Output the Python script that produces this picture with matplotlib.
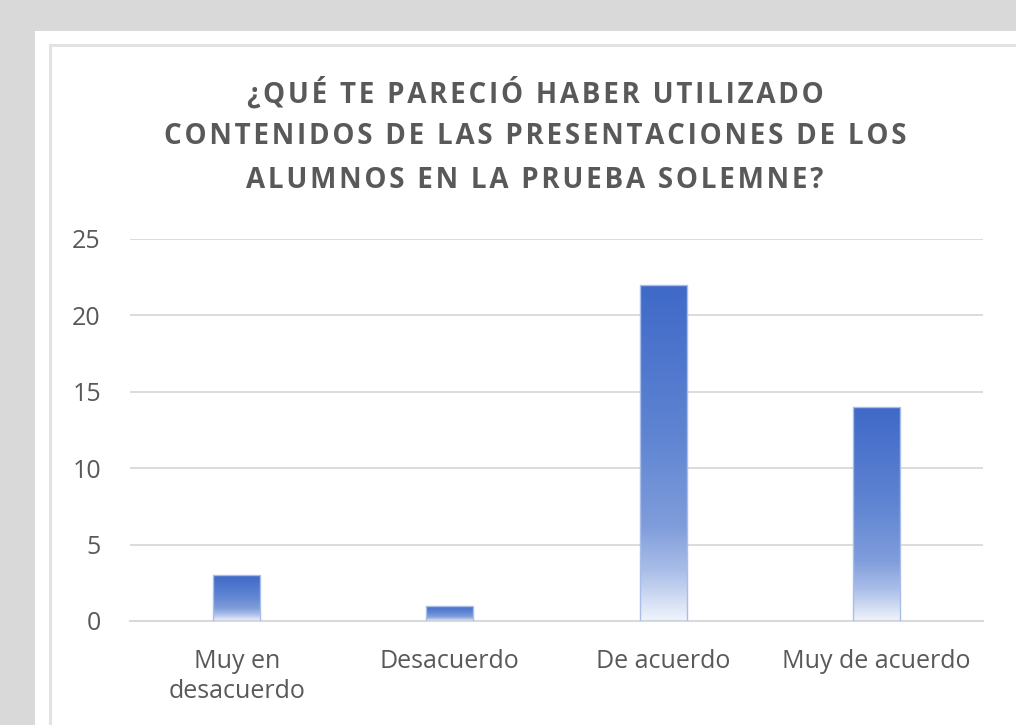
import matplotlib
matplotlib.use("Agg")
import matplotlib.pyplot as plt
import numpy as np
from matplotlib.colors import LinearSegmentedColormap
from matplotlib.patches import Rectangle
from matplotlib.lines import Line2D

categories = ["Muy en\ndesacuerdo", "Desacuerdo", "De acuerdo", "Muy de acuerdo"]
values = [3, 1, 22, 14]
title_lines = ["¿QUÉ TE PARECIÓ HABER UTILIZADO",
               "CONTENIDOS DE LAS PRESENTACIONES DE LOS",
               "ALUMNOS EN LA PRUEBA SOLEMNE?"]
yticks = [0, 5, 10, 15, 20, 25]

W, H = 1016, 725
fig = plt.figure(figsize=(W / 100, H / 100), dpi=100)
fig.patch.set_facecolor("#d9d9d9")

# white panel
fig.patches.append(Rectangle((35 / W, 0), 1 - 35 / W, 1 - 31 / H, transform=fig.transFigure,
                             facecolor="white", edgecolor="none", zorder=-3))
# inner border
fig.lines.append(Line2D([50 / W, 50 / W], [0, 1 - 45 / H], transform=fig.transFigure,
                        color="#e2e2e2", lw=2.2, zorder=-2))
fig.lines.append(Line2D([50 / W, 1], [1 - 45 / H, 1 - 45 / H], transform=fig.transFigure,
                        color="#e2e2e2", lw=2.2, zorder=-2))

ax = fig.add_axes([130 / W, 104 / H, (983 - 130) / W, (621 - 239) / H])
ax.set_facecolor("none")
x = np.arange(len(categories))
bars = ax.bar(x, values, width=0.22, color="none", edgecolor="#a9bde9", linewidth=1.0, zorder=3)

cmap = LinearSegmentedColormap.from_list("grad", [
    (0.0, "#3f69c8"),
    (0.45, "#5f84d2"),
    (0.72, "#809ddb"),
    (0.85, "#a9bde8"),
    (1.0, "#f0f4fc"),
])
grad = np.linspace(0, 1, 256).reshape(-1, 1)
for b in bars:
    x0, y0 = b.get_x(), b.get_y()
    w, h = b.get_width(), b.get_height()
    im = ax.imshow(grad, cmap=cmap, aspect="auto", extent=(x0, x0 + w, y0, y0 + h),
                   origin="upper", zorder=2, interpolation="bilinear")
    im.set_clip_path(b)

ax.set_xlim(-0.5, 3.5)
ax.set_ylim(0, 25)
ax.set_yticks(yticks)
ax.set_xticks(x)
ax.set_xticklabels(categories, fontsize=18, color="#595959", family="Open Sans", linespacing=1.3)
ax.set_yticklabels([str(t) for t in yticks], fontsize=18, color="#595959", family="Open Sans")
ax.tick_params(axis="both", length=0)
ax.tick_params(axis="x", pad=20)
ax.tick_params(axis="y", pad=21)
ax.grid(axis="y", color="#d9d9d9", lw=1.3, zorder=0)
ax.set_axisbelow(True)
for s in ["top", "right", "left"]:
    ax.spines[s].set_visible(False)
ax.spines["bottom"].set_color("#d9d9d9")
ax.spines["bottom"].set_linewidth(1.5)

for line, yc in zip(title_lines, [93, 136, 180]):
    spaced = "\u200a".join(line)
    fig.text(535 / W, 1 - yc / H, spaced, ha="center", va="center", fontsize=20,
             fontweight="bold", color="#595959", family=["Open Sans", "DejaVu Sans"])

fig.savefig("out.png", dpi=100, facecolor=fig.get_facecolor())
